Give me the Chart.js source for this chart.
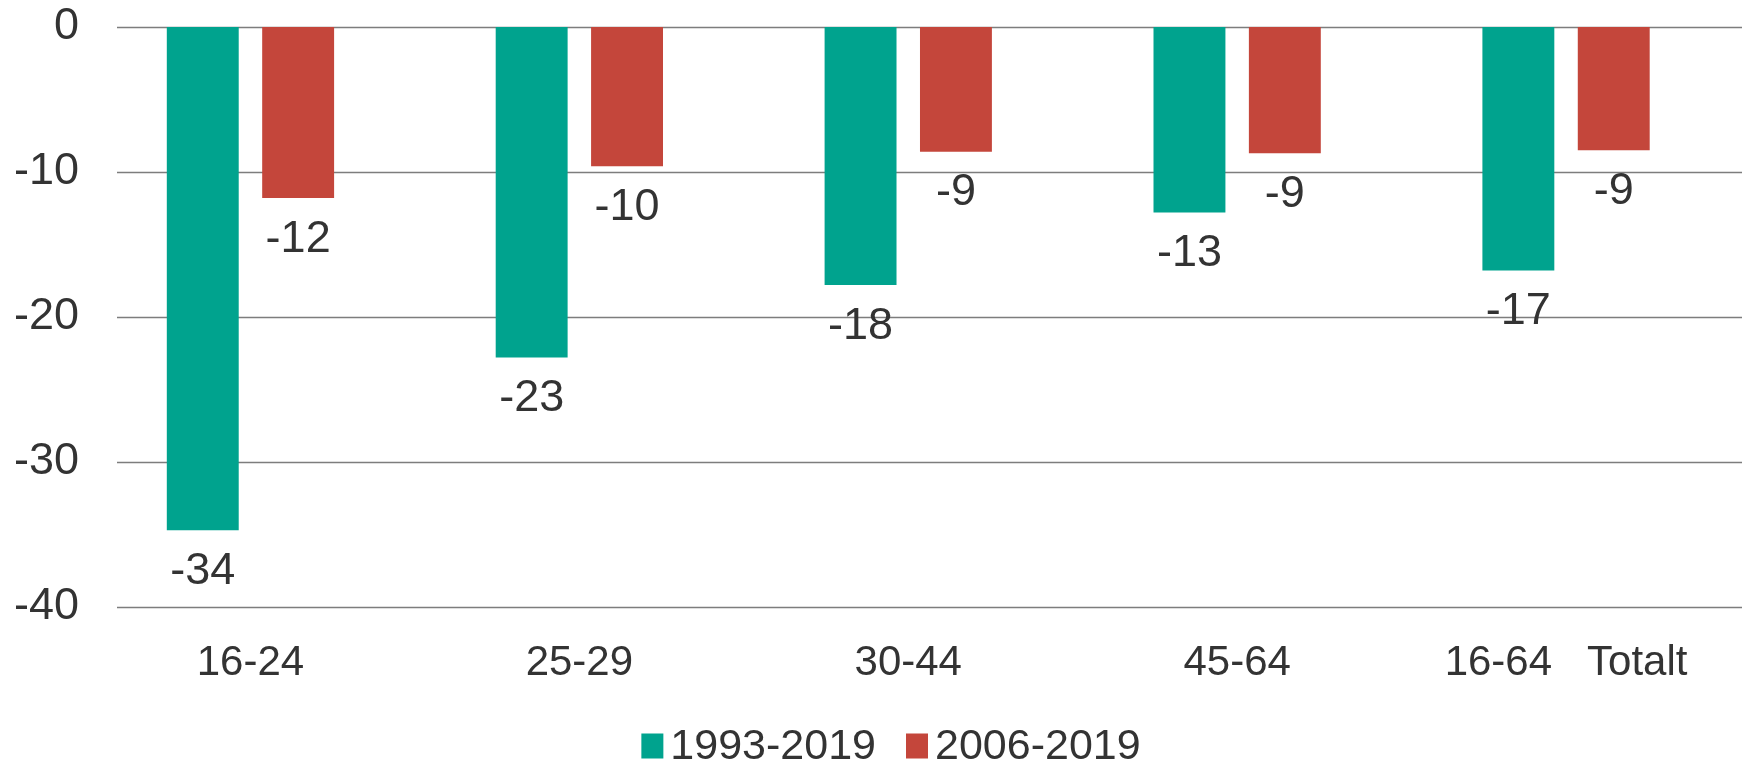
<!DOCTYPE html>
<html>
<head>
<meta charset="utf-8">
<script src="https://cdn.jsdelivr.net/npm/chart.js@4.4.1/dist/chart.umd.min.js"></script>
<style>
	html, body { margin: 0; padding: 0; background: #fff; }
	#wrap { width: 1742px; height: 765px; position: relative; }
</style>
</head>
<body>
<div id="wrap"><canvas id="chart"></canvas></div>
<script>
const categories = ['16-24', '25-29', '30-44', '45-64', '16-64   Totalt'];
const seriesNames = ['1993-2019', '2006-2019'];
const values9319 = [-34.7, -22.8, -17.8, -12.8, -16.8];
const values0619 = [-11.8, -9.6, -8.6, -8.7, -8.5];
const labels9319 = ['-34', '-23', '-18', '-13', '-17'];
const labels0619 = ['-12', '-10', '-9', '-9', '-9'];
const yTicks = [0, -10, -20, -30, -40];

const GREEN = '#00a38e';
const RED = '#c4463b';
const TEXT = '#333333';
const FONT = '"Liberation Sans", Arial, sans-serif';

// horizontal gridlines start a bit right of the axis, like the original
const gridPlugin = {
	id: 'grid',
	beforeDatasetsDraw(chart) {
		const { ctx } = chart;
		const y = chart.scales.y;
		ctx.save();
		ctx.strokeStyle = '#7d7d7d';
		ctx.lineWidth = 1.3;
		for (const v of yTicks) {
			const py = Math.round(y.getPixelForValue(v)) + 0.5;
			ctx.beginPath();
			ctx.moveTo(117, py);
			ctx.lineTo(chart.width, py);
			ctx.stroke();
		}
		ctx.restore();
	},
};

const valueLabels = {
	id: 'valueLabels',
	afterDatasetsDraw(chart) {
		const { ctx } = chart;
		const texts = [labels9319, labels0619];
		ctx.save();
		ctx.font = `45px ${FONT}`;
		ctx.fillStyle = TEXT;
		ctx.textAlign = 'center';
		ctx.textBaseline = 'middle';
		chart.data.datasets.forEach((ds, di) => {
			chart.getDatasetMeta(di).data.forEach((bar, i) => {
				ctx.fillText(texts[di][i], bar.x, bar.y + 41);
			});
		});
		ctx.restore();
	},
};

const legendPlugin = {
	id: 'customLegend',
	afterDraw(chart) {
		const { ctx } = chart;
		ctx.save();
		ctx.font = `43px ${FONT}`;
		const boxW = 22, boxH = 25, gap = 7, itemGap = 30;
		const widths = seriesNames.map((n) => ctx.measureText(n).width);
		const total = widths.reduce((a, w) => a + boxW + gap + w, 0) + itemGap;
		let x = 891 - total / 2;
		const cy = 746;
		chart.data.datasets.forEach((ds, i) => {
			ctx.fillStyle = ds.backgroundColor;
			ctx.fillRect(x, cy - boxH / 2, boxW, boxH);
			x += boxW + gap;
			ctx.fillStyle = TEXT;
			ctx.textAlign = 'left';
			ctx.textBaseline = 'middle';
			ctx.fillText(seriesNames[i], x, cy + 1);
			x += widths[i] + itemGap;
		});
		ctx.restore();
	},
};

new Chart(document.getElementById('chart'), {
	type: 'bar',
	data: {
		labels: categories,
		datasets: [
			{
				label: seriesNames[0],
				data: values9319,
				backgroundColor: GREEN,
				categoryPercentage: 0.58,
				barPercentage: 0.754,
			},
			{
				label: seriesNames[1],
				data: values0619,
				backgroundColor: RED,
				categoryPercentage: 0.58,
				barPercentage: 0.754,
			},
		],
	},
	options: {
		responsive: true,
		maintainAspectRatio: false,
		animation: false,
		devicePixelRatio: 1,
		layout: { padding: { top: 27, right: 11.5, bottom: 88, left: 0 } },
		plugins: {
			legend: { display: false },
			tooltip: { enabled: false },
		},
		scales: {
			x: {
				grid: { display: false, drawTicks: false },
				border: { display: false },
				ticks: { color: TEXT, font: { family: FONT, size: 42 }, padding: 31, maxRotation: 0, autoSkip: false },
				afterFit(scale) { scale.height = 70; },
			},
			y: {
				min: -40,
				max: 0,
				grid: { display: false, drawTicks: false },
				border: { display: false },
				ticks: { stepSize: 10, color: TEXT, font: { family: FONT, size: 45 }, padding: 7 },
				afterFit(scale) {
					scale.width = 86;
					scale.paddingTop = 0;
					scale.paddingBottom = 0;
				},
			},
		},
	},
	plugins: [gridPlugin, valueLabels, legendPlugin],
});
</script>
</body>
</html>
